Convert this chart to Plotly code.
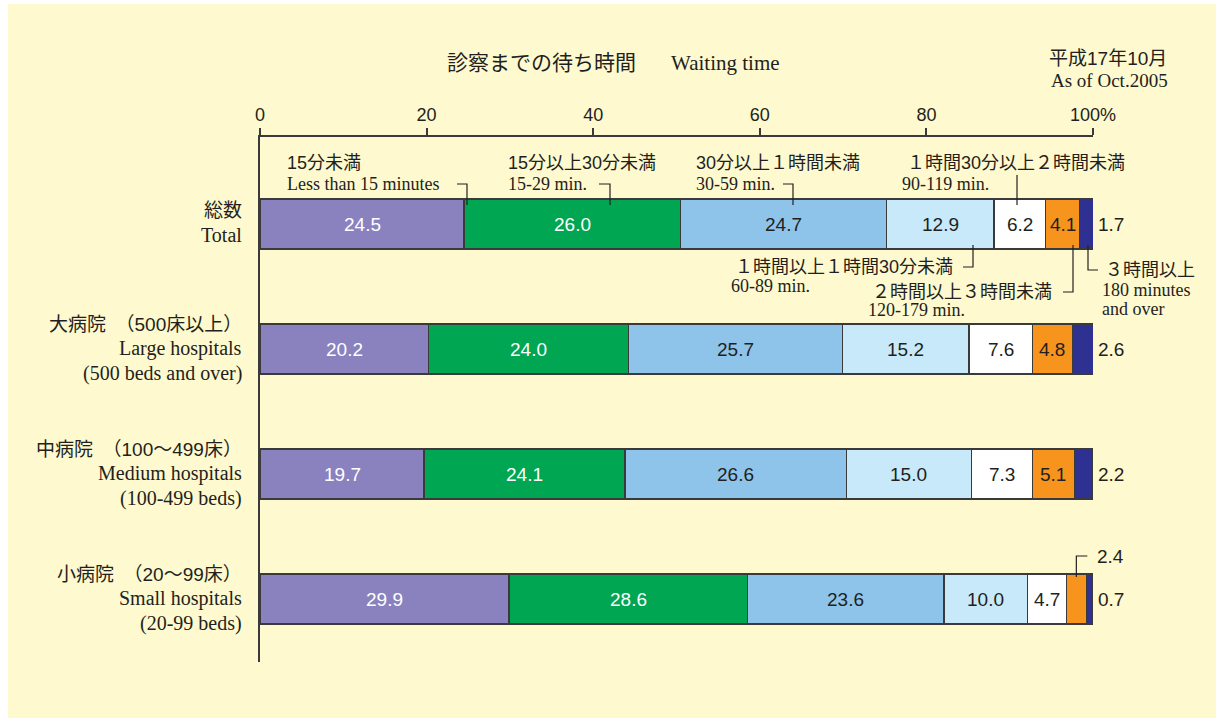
import plotly.graph_objects as go

# ---- data ----
groups_jp = ["総数", "大病院　（500床以上）", "中病院　（100～499床）", "小病院　（20～99床）"]
groups_en = [
    ["Total"],
    ["Large hospitals", "(500 beds and over)"],
    ["Medium hospitals", "(100-499 beds)"],
    ["Small hospitals", "(20-99 beds)"],
]
series_names = ["15分未満", "15分以上30分未満", "30分以上１時間未満", "１時間以上１時間30分未満",
                "１時間30分以上２時間未満", "２時間以上３時間未満", "３時間以上"]
less_15 = [24.5, 20.2, 19.7, 29.9]
min_15_29 = [26.0, 24.0, 24.1, 28.6]
min_30_59 = [24.7, 25.7, 26.6, 23.6]
min_60_89 = [12.9, 15.2, 15.0, 10.0]
min_90_119 = [6.2, 7.6, 7.3, 4.7]
min_120_179 = [4.1, 4.8, 5.1, 2.4]
min_180_over = [1.7, 2.6, 2.2, 0.7]
tick_vals = [0, 20, 40, 60, 80, 100]
tick_text = ["0", "20", "40", "60", "80", "100%"]

series = [less_15, min_15_29, min_30_59, min_60_89, min_90_119, min_120_179, min_180_over]
colors = ["#8A82BF", "#00A651", "#8EC4EA", "#C8E9F9", "#FFFFFF", "#F7941E", "#2E3192"]
text_colors = ["white", "white", "#231F20", "#231F20", "#231F20", "#231F20", "#231F20"]

BG = "#FEF9CE"
INK = "#231F20"
SANS = "Liberation Sans, Noto Sans CJK JP"
JP = "Liberation Sans, Noto Sans CJK JP"
SERIF = "Liberation Serif, Times New Roman"

W, H = 1216, 718
# plot area in pixels
L, R, T, B = 260, 1093, 137, 662


def px(x):
    return (x - L) / (R - L)


def py(y):
    return (B - y) / (B - T)


ypos = list(range(len(groups_jp)))

fig = go.Figure()
for name, vals, col in zip(series_names, series, colors):
    fig.add_trace(go.Bar(
        y=ypos, x=vals, name=name, orientation="h", width=0.4,
        marker=dict(color=col, line=dict(color="#3A3A3A", width=1.3)),
        hoverinfo="x+name",
    ))

annotations = []
shapes = []

# value labels
for row in ypos:
    cum = 0.0
    for i, vals in enumerate(series):
        v = vals[row]
        mid = cum + v / 2
        if i == len(series) - 1:
            annotations.append(dict(x=100, y=row, xref="x", yref="y", text=f"{v:.1f}",
                                    xanchor="center", xshift=18, showarrow=False,
                                    font=dict(family=SANS, size=19, color=INK)))
        elif v < 3:
            annotations.append(dict(x=mid, y=row, xref="x", yref="y", text=f"{v:.1f}",
                                    xanchor="left", xshift=19, yshift=43, showarrow=False,
                                    font=dict(family=SANS, size=19, color=INK)))
            xp = L + mid / 100 * (R - L)
            yc = 224 + 125 * row
            shapes.append(dict(type="path", xref="paper", yref="paper",
                               path=f"M {px(xp)},{py(yc - 22)} L {px(xp)},{py(yc - 43)} L {px(xp + 11)},{py(yc - 43)}",
                               line=dict(color=INK, width=1.2)))
        else:
            annotations.append(dict(x=mid, y=row, xref="x", yref="y", text=f"{v:.1f}",
                                    showarrow=False,
                                    font=dict(family=SANS, size=19, color=text_colors[i])))
        cum += v

# category labels on the left
for row in ypos:
    lines = [(groups_jp[row], JP)] + [(t, SERIF) for t in groups_en[row]]
    shifts = [14, -11] if len(lines) == 2 else [25, 1, -24]
    for (txt, fam), sh in zip(lines, shifts):
        annotations.append(dict(x=px(244), y=row, xref="paper", yref="y", text=txt,
                                xanchor="right", yanchor="middle", yshift=sh, showarrow=False,
                                font=dict(family=fam, size=19 if fam == JP else 20, color=INK)))

# callout labels for the categories (around the total bar)
callouts = [
    (285, 163, series_names[0], 285, 184, ["Less than 15 minutes"], [(457, 184), (467, 184), (467, 205)]),
    (506, 163, series_names[1], 506, 184, ["15-29 min."], [(599, 184), (610, 184), (610, 205)]),
    (694, 163, series_names[2], 694, 184, ["30-59 min."], [(783, 184), (793, 184), (793, 205)]),
    (905, 163, series_names[4], 900, 184, ["90-119 min."], [(1017, 175), (1017, 205)]),
    (733, 267, series_names[3], 729, 286, ["60-89 min."], [(963, 267), (973, 267), (973, 245)]),
    (870, 292, series_names[5], 866, 310, ["120-179 min."], [(1063, 292), (1073, 292), (1073, 245)]),
    (1103, 270, series_names[6], 1100, 290, ["180 minutes", "and over"], [(1088, 245), (1088, 270), (1098, 270)]),
]
for jx, jy, jtxt, ex, ey, etxts, pts in callouts:
    annotations.append(dict(x=px(jx), y=py(jy), xref="paper", yref="paper", text=jtxt,
                            xanchor="left", yanchor="middle", showarrow=False,
                            font=dict(family=JP, size=18, color=INK)))
    for k, et in enumerate(etxts):
        annotations.append(dict(x=px(ex), y=py(ey + 19 * k), xref="paper", yref="paper", text=et,
                                xanchor="left", yanchor="middle", showarrow=False,
                                font=dict(family=SERIF, size=18, color=INK)))
    path = "M " + " L ".join(f"{px(a)},{py(b)}" for a, b in pts)
    shapes.append(dict(type="path", xref="paper", yref="paper", path=path,
                       line=dict(color=INK, width=1.2)))

# titles
annotations += [
    dict(x=px(638), y=py(62), xref="paper", yref="paper", text="診察までの待ち時間",
         xanchor="right", yanchor="middle", showarrow=False, font=dict(family=JP, size=21, color=INK)),
    dict(x=px(669), y=py(63), xref="paper", yref="paper", text="Waiting time",
         xanchor="left", yanchor="middle", showarrow=False, font=dict(family=SERIF, size=21, color=INK)),
    dict(x=px(1169), y=py(58), xref="paper", yref="paper", text="平成17年10月",
         xanchor="right", yanchor="middle", showarrow=False, font=dict(family=JP, size=19, color=INK)),
    dict(x=px(1170), y=py(80), xref="paper", yref="paper", text="As of Oct.2005",
         xanchor="right", yanchor="middle", showarrow=False, font=dict(family=SERIF, size=19, color=INK)),
]

# white strips at the left and top edges of the page
shapes += [
    dict(type="rect", xref="paper", yref="paper", x0=px(0), x1=px(8), y0=py(H), y1=py(0),
         fillcolor="white", line=dict(width=0), layer="below"),
    dict(type="rect", xref="paper", yref="paper", x0=px(0), x1=px(W), y0=py(4), y1=py(0),
         fillcolor="white", line=dict(width=0), layer="below"),
]

fig.update_layout(
    barmode="stack",
    width=W, height=H, autosize=False,
    margin=dict(l=L, r=W - R, t=T, b=H - B, pad=0),
    paper_bgcolor=BG, plot_bgcolor=BG,
    showlegend=False,
    annotations=annotations,
    shapes=shapes,
    xaxis=dict(range=[0, 100], side="top", tickvals=tick_vals, ticktext=tick_text,
               showgrid=False, zeroline=False, showline=True, linecolor="#3A3A3A", linewidth=1.6,
               ticks="outside", ticklen=7, tickwidth=1.5, tickcolor="#3A3A3A",
               tickfont=dict(family=SANS, size=18, color=INK)),
    yaxis=dict(range=[(B - 224) / 125, (T - 224) / 125], showticklabels=False,
               showgrid=False, zeroline=False, showline=True, linecolor="#3A3A3A", linewidth=2,
               ticks=""),
)

# drop the default page margin so the figure fills the window exactly
fig.write_html(
    "out.html",
    config={"displayModeBar": False},
    post_script="document.body.style.margin='0';document.body.style.overflow='hidden';",
)
